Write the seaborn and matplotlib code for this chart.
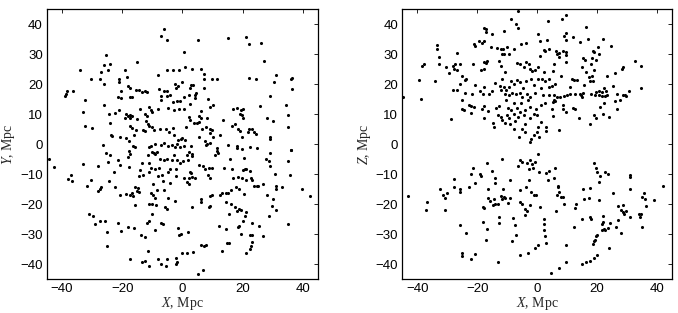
import numpy as np
import pandas as pd
import matplotlib
matplotlib.use("Agg")
import matplotlib.pyplot as plt
import seaborn as sns

# --- point positions (Mpc) ---
# left panel: X-Y projection
xy_top_left = [
    (-6.0, 38.4), (-7.1, 36.0), (-5.0, 34.9), (0.5, 30.8), (-25.3, 29.6), (-15.1, 27.3),
    (-26.2, 26.3), (-24.2, 26.6), (-33.9, 24.6), (-27.0, 24.2), (-24.7, 24.6), (-19.0, 24.9),
    (-8.2, 23.1), (-5.3, 24.8), (-3.2, 24.6), (-1.0, 24.7), (0.8, 25.9), (-18.4, 22.4),
    (-30.3, 21.8), (-27.3, 21.8), (-21.1, 21.6), (-21.1, 20.6), (-25.9, 20.0), (-18.2, 19.4),
    (-17.5, 18.7), (-20.3, 17.8), (-15.4, 18.2), (-14.6, 18.0), (-13.4, 17.4), (-12.6, 17.6),
    (-11.7, 17.3), (-7.9, 18.3), (-6.2, 17.8), (-5.3, 17.7), (-2.6, 20.2), (-1.5, 19.3),
    (-2.0, 18.9), (-0.1, 20.6), (-38.2, 17.8), (-36.4, 17.7), (-38.6, 16.9), (-39.0, 16.2),
    (-32.3, 14.7), (-21.5, 15.8), (-20.4, 15.4), (-17.3, 15.6), (-16.6, 15.8), (-7.1, 16.1),
    (-5.3, 16.1), (-7.0, 14.9), (-4.3, 16.3), (-3.1, 14.2), (-1.7, 14.3), (-0.9, 14.3),
    (0.5, 15.8), (-26.2, 13.2), (-32.9, 10.7), (-24.5, 10.2), (-22.3, 10.4), (-21.0, 11.3),
    (-18.9, 10.0), (-18.2, 9.3), (-17.3, 9.7), (-17.5, 8.9), (-16.6, 9.4), (-15.1, 8.3),
    (-14.2, 11.9), (-12.4, 10.0), (-11.7, 9.4), (-11.2, 12.4), (-10.6, 11.3), (-10.1, 10.6),
    (-8.1, 11.6), (-4.7, 12.2), (-2.9, 11.3), (-1.2, 11.6), (0.5, 11.9), (-24.2, 7.1),
    (-19.1, 8.7), (-17.3, 6.2), (-16.9, 5.3), (-15.6, 4.7), (-13.1, 4.7), (-12.4, 4.4),
    (-12.0, 7.8), (-11.4, 6.9), (-11.0, 6.0), (-10.0, 5.8), (-9.5, 4.9), (-7.6, 5.2),
    (-5.6, 5.2), (-4.5, 4.1), (-3.1, 5.4), (-32.5, 6.0), (-30.1, 5.4), (-23.6, 3.0),
    (-23.4, 2.7), (-20.9, 2.3), (-18.6, 2.1), (-16.2, 3.0), (-2.9, 3.2), (-1.4, 1.3),
    (-0.6, 1.7), (-0.1, 2.2), (0.7, 1.3), (-26.4, -0.4), (-17.7, 1.1), (-16.4, -0.7),
    (-15.9, -0.9), (-11.2, -1.0), (-10.3, -0.7), (-9.0, 0.2), (-7.3, -0.3), (-6.0, 0.4),
    (-4.9, -0.7), (-3.6, -0.3), (-2.6, -0.9), (-1.7, 0.0), (-0.9, -0.9), (0.5, -0.6),
]
xy_top_right = [
    (5.3, 34.9), (15.2, 35.3), (21.1, 35.7), (22.2, 33.3), (26.2, 33.7), (27.1, 27.7),
    (3.1, 25.0), (6.1, 25.0), (7.0, 23.3), (7.3, 21.9), (9.8, 21.7), (11.3, 21.6),
    (22.2, 22.1), (24.3, 21.9), (30.9, 23.1), (30.3, 20.6), (36.1, 21.8), (36.5, 22.2),
    (36.5, 18.4), (2.9, 19.9), (3.6, 19.9), (2.4, 18.6), (4.6, 17.1), (4.1, 16.3),
    (4.0, 15.4), (2.3, 16.3), (2.6, 13.4), (7.1, 18.8), (8.6, 15.0), (9.3, 12.4),
    (10.1, 13.0), (29.2, 16.0), (25.7, 12.9), (34.3, 13.0), (16.7, 11.9), (18.0, 12.1),
    (19.3, 11.3), (20.1, 11.7), (19.1, 10.2), (19.7, 9.7), (20.2, 8.9), (6.0, 11.0),
    (2.3, 9.1), (2.4, 8.0), (5.4, 9.3), (6.0, 8.6), (8.2, 8.8), (3.8, 7.1),
    (4.7, 7.2), (5.6, 7.4), (13.6, 8.0), (28.1, 8.9), (29.9, 7.8), (35.1, 9.9),
    (35.0, 5.8), (1.1, 5.6), (6.6, 5.2), (7.7, 5.8), (9.1, 5.2), (9.9, 4.7),
    (9.3, 3.9), (10.1, 2.4), (12.4, 3.0), (16.3, 6.0), (17.6, 6.6), (18.3, 5.2),
    (19.1, 4.4), (19.9, 2.4), (22.1, 5.2), (23.2, 5.0), (21.9, 4.1), (23.6, 4.1),
    (24.3, 3.3), (29.1, 2.4), (28.9, 1.7), (5.6, 2.4), (7.6, 1.1), (8.2, 0.2),
    (7.7, -0.4), (9.1, 0.4), (11.3, -1.4), (15.2, -0.3), (18.0, -0.6), (18.2, -1.3),
    (19.8, -1.7), (22.3, -0.9), (24.6, -1.4), (36.1, -1.8), (2.7, -0.7),
]
xy_bottom_left = [
    (-44.2, -5.0), (-42.7, -7.6), (-33.1, -6.7), (-25.5, -2.8), (-24.2, -3.7), (-24.9, -5.9),
    (-21.5, -5.3), (-20.7, -6.8), (-22.9, -9.2), (-28.2, -7.2), (-37.1, -10.3), (-38.0, -11.6),
    (-36.7, -12.3), (-31.7, -13.8), (-30.3, -11.9), (-27.2, -14.1), (-27.5, -15.0), (-27.9, -15.6),
    (-24.5, -12.2), (-22.5, -14.1), (-20.9, -17.0), (-18.9, -16.6), (-17.4, -16.8), (-16.7, -16.4),
    (-16.4, -17.2), (-15.9, -14.4), (-14.9, -14.6), (-15.2, -15.7), (-14.3, -15.9), (-15.7, -20.1),
    (-17.6, -7.6), (-18.0, -4.4), (-17.5, -3.3), (-17.8, -2.2), (-13.6, -6.1), (-14.5, -10.5),
    (-14.0, -8.7), (-11.4, -3.7), (-10.2, -2.6), (-9.5, -2.8), (-9.0, -3.3), (-8.4, -2.6),
    (-7.5, -4.8), (-6.2, -5.3), (-5.3, -4.8), (-3.4, -5.3), (-2.9, -3.7), (-1.7, -5.3),
    (-0.9, -6.4), (0.3, -5.7), (-11.2, -6.4), (-10.6, -7.8), (-9.0, -8.1), (-7.9, -7.8),
    (-11.2, -9.2), (-13.1, -10.1), (-8.1, -10.6), (-6.7, -10.1), (-4.7, -9.4), (-4.0, -8.1),
    (-2.3, -8.3), (-2.0, -10.6), (0.5, -11.4), (-4.3, -12.8), (-6.5, -12.2), (-9.7, -13.1),
    (-8.6, -15.3), (-10.6, -16.4), (-9.7, -17.0), (-9.0, -17.8), (-6.2, -15.3), (-4.9, -18.0),
    (-2.4, -19.0), (-11.2, -20.0), (-10.0, -20.0), (-8.7, -20.3), (-5.9, -20.9), (-5.1, -21.7),
    (-30.9, -23.4), (-29.7, -24.0), (-29.0, -26.7), (-27.3, -25.7), (-25.6, -25.6), (-25.1, -29.3),
    (-25.2, -34.0), (-21.5, -26.4), (-20.4, -28.8), (-18.2, -27.7), (-16.2, -28.0), (-13.9, -30.2),
    (-12.5, -30.9), (-11.7, -26.1), (-11.0, -25.7), (-10.1, -23.3), (-9.0, -28.7), (-7.1, -26.2),
    (-6.5, -26.7), (-1.5, -28.0), (-1.0, -30.1), (-0.4, -29.8), (-11.6, -35.7), (-17.3, -38.1),
    (-13.6, -39.4), (-12.5, -39.0), (-11.2, -40.7), (-8.2, -38.1), (-7.3, -39.8), (-5.3, -38.3),
    (-5.5, -40.6), (-2.3, -37.9), (-1.7, -39.2), (-2.0, -39.8), (-0.3, -36.2),
]
xy_bottom_right = [
    (2.3, -2.6), (1.6, -3.7), (3.2, -3.3), (3.2, -4.0), (1.9, -5.3), (2.5, -9.2),
    (2.7, -9.5), (2.1, -11.4), (3.2, -10.9), (4.1, -11.4), (1.6, -12.6), (2.1, -13.4),
    (5.4, -6.8), (6.8, -7.2), (7.4, -8.3), (8.8, -7.9), (9.7, -7.9), (8.4, -10.3),
    (9.3, -11.4), (10.7, -3.7), (11.6, -2.3), (11.9, -2.8), (15.8, -4.8), (20.3, -4.6),
    (20.8, -8.1), (21.2, -8.3), (20.2, -8.7), (22.3, -9.0), (13.9, -7.8), (16.6, -8.3),
    (18.4, -11.0), (16.8, -11.2), (19.9, -11.2), (21.0, -11.8), (22.7, -11.4), (23.2, -12.0),
    (23.6, -13.9), (24.6, -14.0), (25.2, -14.0), (26.9, -13.3), (27.7, -5.0), (28.6, -5.6),
    (29.1, -2.8), (29.1, -7.3), (30.8, -9.8), (31.2, -13.9), (31.2, -14.8), (32.9, -14.2),
    (28.2, -17.0), (29.9, -18.4), (29.7, -20.7), (31.0, -22.0), (28.7, -24.0), (34.9, -5.6),
    (36.0, -2.0), (35.8, -10.3), (39.7, -14.8), (42.3, -17.2), (35.0, -26.7), (26.9, -30.7),
    (12.4, -17.0), (13.2, -16.4), (14.3, -16.4), (15.2, -16.2), (16.0, -15.1), (17.9, -14.2),
    (18.8, -15.0), (20.5, -16.6), (14.3, -19.2), (16.0, -19.8), (15.4, -23.4), (17.4, -20.9),
    (18.2, -22.3), (18.8, -21.7), (19.5, -21.8), (21.0, -22.6), (20.8, -24.0), (18.4, -27.5),
    (18.8, -27.2), (20.1, -25.7), (23.2, -26.2), (25.4, -27.1), (12.2, -27.3), (14.6, -28.1),
    (19.4, -29.8), (22.3, -30.1), (23.2, -30.1), (23.2, -32.6), (22.7, -33.9), (22.3, -34.8),
    (21.0, -36.1), (14.9, -32.8), (15.4, -32.8), (13.0, -35.7), (3.0, -20.9), (6.0, -18.4),
    (6.0, -19.2), (8.8, -20.9), (9.3, -20.7), (9.7, -17.0), (9.1, -17.2), (1.8, -29.4),
    (6.3, -33.7), (7.1, -33.9), (7.9, -33.7), (3.4, -35.9), (1.6, -36.4), (5.3, -43.4),
    (6.8, -41.8),
]

# right panel: X-Z projection
xz_top_left = [
    (-6.5, 44.4), (-8.8, 41.6), (-7.1, 40.0), (-6.4, 38.9), (-17.8, 38.9), (-17.1, 38.3),
    (-16.9, 37.4), (-14.9, 36.9), (-11.1, 37.7), (0.2, 36.9), (-21.1, 33.3), (-20.8, 32.9),
    (-19.5, 34.4), (-18.5, 33.9), (-17.8, 34.4), (-15.4, 32.4), (-13.4, 32.2), (-12.2, 31.7),
    (-11.4, 31.6), (-10.0, 32.4), (-11.7, 30.2), (-10.9, 30.2), (-9.5, 30.2), (-7.6, 31.7),
    (-5.4, 33.3), (-3.8, 33.6), (-33.4, 33.0), (-33.4, 31.6), (-32.7, 29.1), (-32.8, 26.9),
    (-37.7, 26.6), (-38.4, 26.1), (-26.6, 30.4), (-30.5, 25.8), (-29.4, 23.8), (-28.2, 26.1),
    (-27.5, 26.9), (-27.6, 25.2), (-26.7, 24.9), (-25.6, 26.9), (-21.5, 26.7), (-17.6, 27.4),
    (-16.7, 27.7), (-17.1, 27.2), (-18.7, 24.7), (-17.8, 25.2), (-12.8, 27.7), (-12.2, 26.2),
    (-10.6, 24.1), (-6.7, 27.2), (-5.6, 26.7), (-3.8, 27.4), (-4.5, 25.8), (-2.8, 26.9),
    (-2.5, 25.2), (-1.7, 24.3), (-0.8, 24.7), (0.2, 25.8), (-25.0, 22.7), (-24.2, 21.3),
    (-23.9, 21.7), (-25.6, 20.2), (-39.4, 21.3), (-34.2, 21.1), (-44.7, 15.6), (-38.7, 15.0),
    (-20.6, 19.7), (-17.6, 19.1), (-21.6, 16.9), (-18.0, 16.6), (-16.1, 16.9), (-15.0, 17.7),
    (-13.9, 20.4), (-12.5, 19.3), (-11.6, 21.6), (-11.1, 19.1), (-12.0, 18.0), (-10.5, 18.2),
    (-9.5, 19.1), (-8.7, 21.0), (-7.8, 20.0), (-6.7, 21.3), (-5.6, 20.8), (-4.8, 18.9),
    (-3.6, 21.0), (-2.0, 21.8), (-1.1, 19.7), (0.2, 21.9), (-28.0, 18.2), (-26.9, 18.0),
    (-24.2, 17.1), (-25.0, 14.9), (-18.9, 17.8), (-10.6, 16.9), (-9.5, 16.3), (-8.4, 17.1),
    (-6.9, 16.7), (-5.6, 17.1), (-5.2, 15.6), (-3.4, 16.9), (-2.2, 15.8), (-0.6, 17.1),
    (-28.6, 8.4), (-25.2, 11.7), (-24.5, 11.3), (-22.8, 13.0), (-22.2, 12.7), (-22.2, 10.4),
    (-20.9, 12.4), (-17.8, 12.8), (-18.4, 11.9), (-17.6, 8.6), (-16.5, 11.1), (-14.8, 7.1),
    (-14.5, 5.8), (-13.7, 12.2), (-12.8, 12.7), (-13.0, 9.7), (-12.2, 9.1), (-11.7, 8.2),
    (-10.4, 14.7), (-9.8, 12.2), (-10.0, 9.7), (-9.5, 8.9), (-8.7, 11.3), (-7.8, 10.2),
    (-7.6, 13.6), (-6.7, 12.1), (-6.5, 9.1), (-5.8, 10.8), (-5.4, 13.6), (-4.5, 9.7),
    (-3.9, 11.3), (-3.0, 14.7), (-2.5, 12.4), (-2.2, 8.6), (-1.1, 10.2), (-0.2, 11.9),
    (0.0, 9.7), (-10.6, 7.1), (-8.9, 6.7), (-7.5, 7.8), (-7.8, 5.2), (-5.0, 5.2),
    (-4.1, 6.9), (-3.9, 4.1), (-6.1, 2.4), (-2.2, 0.8), (-1.9, 1.6), (-1.1, 3.0),
    (0.0, 4.1), (0.2, 5.8),
]
xz_top_right = [
    (9.5, 43.0), (8.3, 41.6), (3.6, 41.1), (16.3, 39.1), (9.5, 37.1), (9.1, 36.1),
    (9.5, 34.7), (3.3, 34.7), (1.1, 34.4), (12.0, 35.6), (14.2, 34.1), (16.9, 35.1),
    (22.1, 35.1), (24.7, 32.9), (2.2, 31.3), (2.6, 31.1), (3.9, 31.9), (6.3, 31.1),
    (6.7, 30.2), (7.2, 30.4), (8.6, 31.1), (9.8, 30.8), (9.8, 29.7), (7.2, 29.1),
    (1.1, 29.3), (9.8, 27.4), (18.7, 31.1), (19.1, 30.8), (20.2, 32.4), (20.6, 30.2),
    (18.3, 28.6), (15.3, 28.6), (16.1, 28.2), (19.8, 28.2), (18.0, 26.9), (15.0, 25.8),
    (16.3, 24.1), (18.9, 24.9), (17.2, 22.4), (18.3, 22.7), (17.8, 21.1), (18.7, 21.1),
    (23.3, 22.8), (26.1, 23.8), (28.3, 25.2), (28.6, 25.8), (32.6, 27.8), (34.7, 26.2),
    (34.7, 18.9), (5.6, 26.7), (5.2, 24.3), (8.0, 22.9), (2.2, 24.1), (1.7, 21.7),
    (2.8, 21.0), (3.9, 21.7), (5.9, 20.2), (5.0, 19.3), (3.9, 19.1), (1.3, 18.9),
    (11.5, 21.9), (12.2, 21.3), (13.3, 21.3), (11.1, 19.1), (15.6, 19.7), (25.2, 19.4),
    (22.2, 18.6), (23.0, 17.8), (21.7, 17.4), (20.8, 17.8), (19.8, 17.4), (19.2, 16.3),
    (20.6, 16.3), (21.7, 16.0), (22.6, 16.0), (23.3, 16.3), (26.7, 16.7), (28.7, 16.3),
    (29.5, 16.3), (30.6, 17.7), (29.8, 16.0), (27.8, 14.9), (26.1, 14.3), (1.9, 16.3),
    (3.9, 16.3), (5.6, 16.3), (7.6, 15.8), (8.9, 16.1), (10.0, 16.3), (11.1, 16.7),
    (12.8, 16.7), (14.2, 16.9), (14.8, 16.3), (15.3, 17.1), (18.0, 16.7), (15.0, 15.8),
    (5.6, 14.9), (5.2, 14.1), (6.1, 14.4), (6.7, 15.8), (2.8, 13.6), (1.3, 13.0),
    (8.7, 13.2), (8.7, 11.6), (9.5, 10.8), (5.0, 11.7), (12.0, 12.2), (12.6, 11.6),
    (22.2, 13.6), (20.9, 12.4), (26.7, 11.7), (19.1, 9.7), (19.7, 8.9), (21.9, 10.2),
    (24.1, 9.1), (14.1, 8.6), (17.6, 6.6), (5.2, 9.3), (1.3, 7.4), (3.0, 5.8),
    (3.0, 4.3), (0.8, 2.4), (7.2, 4.7),
]
xz_bottom_left = [
    (0.2, -3.1), (-43.1, -17.3), (-37.1, -22.0), (-36.7, -19.4), (-32.5, -15.0), (-31.4, -16.8),
    (-30.6, -17.8), (-30.0, -16.4), (-30.8, -22.0), (-27.8, -11.7), (-27.8, -14.2), (-25.9, -15.9),
    (-25.6, -14.8), (-22.8, -14.4), (-21.9, -9.8), (-21.4, -7.8), (-20.6, -12.8), (-19.1, -10.0),
    (-18.6, -10.6), (-16.7, -6.4), (-15.2, -8.9), (-14.1, -11.1), (-13.9, -12.8), (-16.4, -14.8),
    (-16.5, -17.9), (-15.6, -18.9), (-14.7, -20.1), (-13.9, -19.8), (-14.5, -18.3), (-18.0, -21.0),
    (-17.8, -21.4), (-11.7, -5.0), (-8.9, -12.0), (-11.4, -15.0), (-11.9, -17.2), (-11.1, -17.6),
    (-11.7, -18.3), (-10.6, -17.9), (-9.7, -19.6), (-8.9, -17.9), (-13.0, -19.8), (-18.1, -25.9),
    (-16.7, -28.1), (-16.9, -32.0), (-12.7, -24.2), (-12.7, -26.1), (-8.0, -24.5), (-7.5, -26.8),
    (-7.1, -30.1), (-8.4, -32.3), (-25.8, -26.8), (-23.6, -29.6), (-25.0, -36.1), (-25.0, -37.3),
    (-22.0, -38.4), (-20.6, -36.7), (-13.1, -39.4), (-6.5, -7.2), (-5.6, -5.3), (-5.0, -5.9),
    (-3.4, -6.4), (-2.2, -5.3), (-1.7, -6.7), (-1.4, -7.9), (-2.8, -8.1), (-0.8, -5.9),
    (-5.8, -15.3), (-5.6, -19.4), (-5.0, -19.8), (-3.9, -21.7), (-3.9, -23.7), (-3.4, -22.2),
    (-3.6, -14.2), (-2.8, -11.8), (-1.9, -15.9), (-1.1, -16.8), (-2.2, -20.1), (-5.6, -37.0),
    (-3.1, -36.4), (-0.8, -34.5), (0.3, -33.7), (-0.4, -16.8),
]
xz_bottom_right = [
    (0.6, -9.4), (0.9, -20.9), (3.1, -9.6), (4.1, -9.0), (3.6, -11.8), (2.2, -24.8),
    (2.2, -26.7), (2.2, -28.7), (2.8, -30.6), (3.1, -32.9), (4.8, -42.8), (7.2, -41.2),
    (9.5, -39.4), (9.5, -33.7), (5.8, -11.2), (6.1, -7.9), (6.9, -13.9), (6.9, -14.4),
    (7.2, -15.9), (6.5, -16.8), (8.0, -17.6), (8.7, -17.6), (8.9, -19.8), (6.3, -22.2),
    (13.1, -19.8), (12.5, -21.1), (12.2, -27.6), (15.3, -14.8), (15.6, -18.3), (17.5, -17.9),
    (17.6, -14.6), (15.0, -24.8), (17.6, -24.4), (18.1, -25.0), (18.7, -33.4), (18.9, -6.1),
    (19.7, -7.9), (20.0, -9.4), (20.9, -10.6), (20.6, -12.6), (20.8, -18.7), (22.0, -23.9),
    (22.0, -25.9), (21.7, -26.7), (22.2, -28.1), (22.6, -28.7), (23.6, -27.9), (21.7, -28.7),
    (20.0, -30.3), (19.7, -30.6), (19.5, -32.0), (19.1, -32.3), (22.8, -9.4), (23.6, -9.8),
    (25.2, -16.4), (24.2, -26.2), (24.0, -34.6), (26.5, -27.6), (27.0, -25.3), (28.0, -29.6),
    (27.0, -20.7), (28.0, -21.8), (28.7, -20.1), (28.7, -22.6), (28.9, -23.1), (29.6, -22.3),
    (30.9, -24.2), (30.9, -14.8), (31.1, -10.9), (30.9, -10.3), (34.0, -23.1), (34.7, -23.3),
    (34.5, -24.2), (35.2, -27.6), (35.0, -17.6), (35.8, -16.1), (36.1, -18.4), (36.3, -20.6),
    (39.2, -18.7), (42.0, -13.9), (15.1, -39.8), (16.3, -39.4), (17.8, -39.0), (18.9, -37.8),
    (20.0, -36.8),
]

x_ticks = [-40, -20, 0, 20, 40]
y_ticks = [-40, -30, -20, -10, 0, 10, 20, 30, 40]
axis_lim = (-45, 45)

xy = pd.DataFrame(xy_top_left + xy_top_right + xy_bottom_left + xy_bottom_right, columns=["X", "Y"])
xz = pd.DataFrame(xz_top_left + xz_top_right + xz_bottom_left + xz_bottom_right, columns=["X", "Z"])

sns.set_style("white")
plt.rcParams.update({
    "xtick.direction": "in", "ytick.direction": "in",
    "xtick.top": True, "ytick.right": True,
    "xtick.major.size": 3, "ytick.major.size": 3,
    "xtick.major.width": 0.6, "ytick.major.width": 0.6,
    "axes.edgecolor": "black", "axes.linewidth": 0.9,
    "mathtext.fontset": "custom",
    "mathtext.it": "Liberation Serif:italic",
})
plt.rcParams["font.family"] = ["Liberation Sans", "DejaVu Sans"]

fig = plt.figure(figsize=(6.78, 3.13), dpi=100)
ax1 = fig.add_axes([0.0693, 0.1077, 0.3997, 0.8626])
ax2 = fig.add_axes([0.5934, 0.1077, 0.3975, 0.8626])

sns.scatterplot(data=xy, x="X", y="Y", ax=ax1, color="black", s=5, linewidth=0, legend=False)
sns.scatterplot(data=xz, x="X", y="Z", ax=ax2, color="black", s=5, linewidth=0, legend=False)

label_font = {"family": "Liberation Serif", "size": 10}
for ax, ylab in [(ax1, "Y"), (ax2, "Z")]:
    ax.set_xlim(axis_lim)
    ax.set_ylim(axis_lim)
    ax.set_xticks(x_ticks)
    ax.set_yticks(y_ticks)
    ax.tick_params(labelsize=9.5, pad=3, colors="black")
    ax.set_xlabel(r"$\mathit{X}$, Mpc", fontdict=label_font, labelpad=0)
    ax.set_ylabel(rf"$\mathit{{{ylab}}}$, Mpc", fontdict=label_font, labelpad=2)
    for s in ax.spines.values():
        s.set_visible(True)

fig.savefig("out.png", dpi=100)
